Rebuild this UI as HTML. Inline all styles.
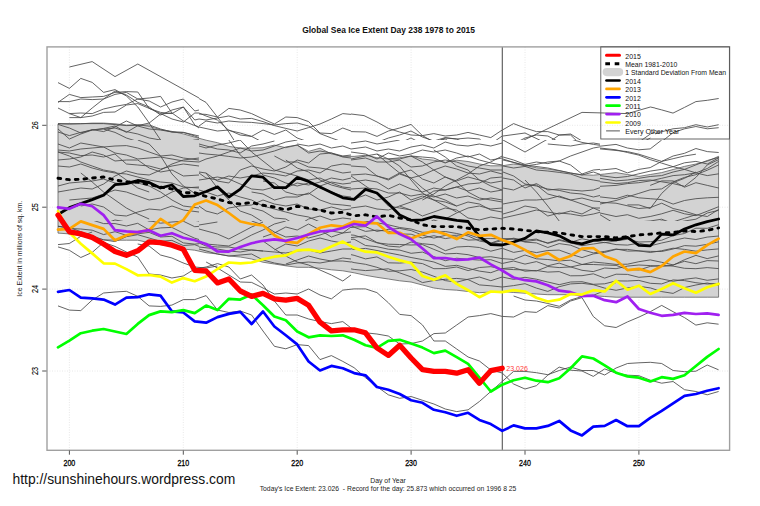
<!DOCTYPE html><html><head><meta charset="utf-8"><style>html,body{margin:0;padding:0;background:#fff;overflow:hidden;width:760px;height:506px;}svg{display:block;}</style></head><body>
<svg width="760" height="506" viewBox="0 0 760 506" style="font-family:'Liberation Sans', sans-serif">
<rect width="760" height="506" fill="#fff"/>
<line x1="69.4" y1="47" x2="69.4" y2="450" stroke="#e2e2e2" stroke-width="0.8" stroke-dasharray="1,1.5"/>
<line x1="183.3" y1="47" x2="183.3" y2="450" stroke="#e2e2e2" stroke-width="0.8" stroke-dasharray="1,1.5"/>
<line x1="297.2" y1="47" x2="297.2" y2="450" stroke="#e2e2e2" stroke-width="0.8" stroke-dasharray="1,1.5"/>
<line x1="411.1" y1="47" x2="411.1" y2="450" stroke="#e2e2e2" stroke-width="0.8" stroke-dasharray="1,1.5"/>
<line x1="525.0" y1="47" x2="525.0" y2="450" stroke="#e2e2e2" stroke-width="0.8" stroke-dasharray="1,1.5"/>
<line x1="638.9" y1="47" x2="638.9" y2="450" stroke="#e2e2e2" stroke-width="0.8" stroke-dasharray="1,1.5"/>
<line x1="47" y1="371.0" x2="729" y2="371.0" stroke="#e2e2e2" stroke-width="0.8" stroke-dasharray="1,1.5"/>
<line x1="47" y1="289.1" x2="729" y2="289.1" stroke="#e2e2e2" stroke-width="0.8" stroke-dasharray="1,1.5"/>
<line x1="47" y1="207.2" x2="729" y2="207.2" stroke="#e2e2e2" stroke-width="0.8" stroke-dasharray="1,1.5"/>
<line x1="47" y1="125.3" x2="729" y2="125.3" stroke="#e2e2e2" stroke-width="0.8" stroke-dasharray="1,1.5"/>
<polygon points="58.0,123.8 69.4,124.3 80.8,123.8 92.2,123.1 103.6,123.1 115.0,123.8 126.4,125.1 137.7,124.6 149.1,126.4 160.5,129.6 171.9,131.4 183.3,133.9 194.7,137.1 206.1,140.2 217.5,142.7 228.9,146.4 240.3,148.0 251.6,148.2 263.0,147.7 274.4,145.1 285.8,147.7 297.2,145.1 308.6,151.4 320.0,148.2 331.4,153.9 342.8,156.4 354.1,156.4 365.5,155.2 376.9,157.7 388.3,159.0 399.7,157.7 411.1,156.0 422.5,159.0 433.9,160.2 445.3,162.2 456.7,160.2 468.1,161.5 479.4,164.0 490.8,165.8 502.2,165.8 513.6,164.0 525.0,165.3 536.4,167.8 547.8,169.0 559.2,170.8 570.6,173.0 582.0,174.8 593.3,175.2 604.7,174.0 616.1,172.6 627.5,174.5 638.9,176.4 650.3,174.5 661.7,172.6 673.1,169.5 684.5,166.4 695.9,164.0 707.2,161.3 718.6,156.3 718.6,297.2 707.2,297.2 695.9,297.2 684.5,297.2 673.1,297.2 661.7,297.2 650.3,297.2 638.9,297.2 627.5,297.2 616.1,297.2 604.7,296.5 593.3,295.7 582.0,295.2 570.6,294.7 559.2,294.7 547.8,294.7 536.4,294.0 525.0,293.2 513.6,292.5 502.2,291.5 490.8,292.0 479.4,292.7 468.1,291.5 456.7,290.2 445.3,289.5 433.9,288.0 422.5,285.0 411.1,282.0 399.7,280.8 388.3,279.0 376.9,277.3 365.5,275.3 354.1,272.8 342.8,270.8 331.4,269.8 320.0,268.3 308.6,267.3 297.2,267.3 285.8,265.8 274.4,264.0 263.0,262.2 251.6,259.0 240.3,257.0 228.9,256.0 217.5,254.0 206.1,252.7 194.7,250.2 183.3,249.0 171.9,246.4 160.5,244.7 149.1,242.7 137.7,240.2 126.4,240.2 115.0,240.2 103.6,239.7 92.2,237.1 80.8,235.1 69.4,233.9 58.0,233.1" fill="#d3d3d3" stroke="#606060" stroke-width="0.8"/>
<clipPath id="c0"><rect x="47.0" y="47.0" width="152.0" height="93.0"/></clipPath>
<g clip-path="url(#c0)" fill="none" stroke="#484848" stroke-width="0.85" stroke-linejoin="round">
<polyline points="69.4,67.0 92.2,61.6 115.0,76.6 137.8,64.0 199.0,98.0"/>
<polyline points="58.0,82.6 69.4,88.4 80.8,78.4 92.2,82.4 103.6,92.4 115.0,89.6 126.4,96.0 137.8,107.0 149.2,123.0 160.6,140.0 166.6,151.0"/>
<polyline points="58.0,102.4 69.4,94.4 80.8,97.6 92.2,97.0 103.6,96.4 115.0,92.4 126.4,91.6 137.8,92.0 149.2,108.4 160.6,113.6 172.0,119.0 183.4,122.0 194.8,113.0 199.0,113.0"/>
<polyline points="58.0,101.6 69.4,101.6 80.8,99.0 92.2,99.6 103.6,99.0 115.0,94.4 126.4,92.4 137.8,99.0 149.2,98.0 160.6,96.4 172.0,113.0 183.4,121.0 194.8,125.6 199.0,127.0"/>
<polyline points="58.0,108.0 69.4,113.6 80.8,117.6 92.2,108.0 103.6,99.0 115.0,91.0 126.4,95.0 137.8,102.4 149.2,107.0 160.6,115.0 172.0,110.0 183.4,107.0 194.8,125.0 199.0,128.0"/>
<polyline points="69.4,117.6 80.8,117.6 92.2,116.0 103.6,112.4 115.0,112.0 126.4,105.0 137.8,103.6 149.2,108.4 160.6,112.4 172.0,113.6 183.4,107.0 194.8,120.0 199.0,119.0"/>
<polyline points="69.4,113.6 80.8,113.0 92.2,113.6 103.6,109.0 115.0,106.4 126.4,104.4 137.8,99.0 149.2,101.0 160.6,107.0 172.0,102.0 183.4,99.0 194.8,111.0 199.0,110.0"/>
<polyline points="58.0,123.6 80.8,123.6 103.6,123.6 126.4,125.6 149.2,125.0 160.6,129.0 172.0,132.0 183.4,132.4 194.8,136.0 199.0,137.6"/>
<polyline points="58.0,124.4 69.4,128.0 80.8,133.0 92.2,129.6 103.6,131.6 115.0,127.0 126.4,121.0 137.8,126.0 149.2,129.0 160.6,130.0 172.0,132.0 183.4,132.4 199.0,136.0"/>
<polyline points="58.0,132.0 69.4,135.6 80.8,132.4 92.2,130.0 103.6,128.4 115.0,126.0 126.4,132.4 137.8,125.6 149.2,123.0 160.6,114.0 172.0,113.0"/>
<polyline points="58.0,129.0 69.4,139.0 80.8,134.0 92.2,130.0 103.6,129.0 115.0,128.0 126.4,131.6 137.8,134.0 149.2,138.0 160.6,140.0"/>
<polyline points="103.6,129.0 115.0,132.4 126.4,138.0 137.8,141.6 149.2,144.0 160.6,145.6 172.0,146.0 183.4,142.4 194.8,140.0 199.0,139.6"/>
</g>
<clipPath id="c1"><rect x="199.0" y="47.0" width="152.0" height="93.0"/></clipPath>
<g clip-path="url(#c1)" fill="none" stroke="#484848" stroke-width="0.85" stroke-linejoin="round">
<polyline points="198.0,98.0 206.0,102.4 217.4,117.0 228.8,132.0 240.2,150.0"/>
<polyline points="199.0,114.0 206.0,114.4 217.4,117.0 228.8,108.4 240.2,110.0 251.6,113.6 263.0,119.0 274.4,124.0 285.8,117.0 297.2,117.6 308.6,121.6 320.0,133.0 331.4,133.6 342.8,128.0 351.0,131.0"/>
<polyline points="199.0,119.0 206.0,120.0 217.4,118.0 228.8,116.0 240.2,119.0 251.6,118.4 263.0,121.6 274.4,125.6 285.8,128.4 297.2,131.0 308.6,127.6 320.0,124.0 331.4,119.0 342.8,113.6 351.0,114.4"/>
<polyline points="199.0,126.0 206.0,121.0 217.4,123.0 228.8,121.0 240.2,122.0 251.6,122.4 263.0,123.6 274.4,125.0 285.8,123.6 297.2,123.0 308.6,126.0 320.0,133.6 331.4,138.0 342.8,142.0"/>
<polyline points="199.0,127.0 217.4,131.0 228.8,130.0 240.2,135.0 251.6,136.4 263.0,130.0 274.4,134.4 285.8,130.0 297.2,138.0 308.6,142.0 320.0,144.0 331.4,148.0 339.0,151.0"/>
<polyline points="199.0,113.0 206.0,116.0 217.4,120.0 228.8,130.4 240.2,133.0 251.6,136.4 263.0,142.4 274.4,146.0 285.8,150.0"/>
</g>
<clipPath id="c2"><rect x="351.0" y="47.0" width="152.0" height="93.0"/></clipPath>
<g clip-path="url(#c2)" fill="none" stroke="#484848" stroke-width="0.85" stroke-linejoin="round">
<polyline points="351.0,114.0 364.0,115.6 377.0,122.0 388.4,128.4 399.6,132.0 411.0,135.0 422.4,135.6 433.8,133.6 445.2,136.0 456.6,135.0 468.0,132.4 479.4,135.0 490.8,137.6 502.2,130.0"/>
<polyline points="351.0,131.6 365.6,132.0 377.0,136.4 388.4,131.0 399.6,128.0 411.0,124.4 422.4,135.6 433.8,142.0 445.2,150.0"/>
<polyline points="351.0,141.0 365.6,145.0 377.0,142.4 388.4,138.0 399.6,135.0 411.0,131.0 422.4,137.0 433.8,141.0 445.2,137.6 456.6,139.0 468.0,138.0 479.4,139.0 490.8,149.0 495.0,151.0"/>
<polyline points="433.8,142.0 445.2,139.0 456.6,146.0 468.0,144.0 479.4,147.6 490.8,144.0 502.2,136.0"/>
<polyline points="351.0,143.0 365.6,145.6 377.0,150.0"/>
<polyline points="377.0,150.0 388.4,145.6 399.6,143.0 411.0,138.0 422.4,144.0 433.8,148.0"/>
<polyline points="422.4,150.0 433.8,143.0 445.2,138.0 456.6,139.0 468.0,144.0"/>
</g>
<clipPath id="c3"><rect x="503.0" y="47.0" width="152.0" height="93.0"/></clipPath>
<g clip-path="url(#c3)" fill="none" stroke="#484848" stroke-width="0.85" stroke-linejoin="round">
<polyline points="502.4,130.0 513.6,123.6 525.0,128.0 536.4,131.6 547.8,131.6 559.2,135.0 570.6,134.0 582.0,141.0 593.4,142.4 604.8,144.0 616.2,146.0 627.6,148.0 639.0,144.0 650.4,138.0"/>
<polyline points="503.0,136.0 525.0,133.0 547.8,144.0 570.6,147.0 582.0,150.0"/>
<polyline points="503.0,148.0 513.6,144.0 525.0,138.0 536.4,135.0 547.8,136.0 559.2,142.0 570.6,150.0"/>
<polyline points="547.8,143.6 559.2,144.0 570.6,146.0 582.0,147.6 593.4,148.0 604.8,150.0 616.2,149.0 627.6,149.0 639.0,151.0"/>
<polyline points="503.0,150.0 582.0,112.4 604.8,113.0 627.6,113.6 650.4,107.0 655.0,108.0"/>
<polyline points="529.0,151.0 547.8,143.0 559.2,135.0 570.6,135.0 582.0,146.0 593.4,142.4 604.8,143.0 616.2,144.0 627.6,147.6 639.0,142.0 650.4,134.0 655.0,132.0"/>
</g>
<clipPath id="c4"><rect x="655.0" y="47.0" width="80.0" height="93.0"/></clipPath>
<g clip-path="url(#c4)" fill="none" stroke="#484848" stroke-width="0.85" stroke-linejoin="round">
<polyline points="600.0,112.8 616.0,112.8 627.4,111.0 638.8,108.7 650.2,106.9 661.7,109.9 673.0,113.1 684.5,107.4 695.9,101.6 707.3,100.3 718.7,98.5"/>
<polyline points="616.0,150.5 627.4,151.4 638.8,143.4 650.2,135.4 661.7,131.8 673.0,128.8 684.5,127.7 695.9,124.7 707.3,127.0 718.7,124.7"/>
<polyline points="638.8,151.4 650.2,150.1 661.7,141.6 673.0,132.7 684.5,128.8 695.9,126.5 707.3,128.8 718.7,127.7"/>
<polyline points="600.0,146.9 616.0,146.0 627.4,148.7 638.8,151.9 650.2,156.7 661.7,163.0 673.0,166.5 684.5,168.3 695.9,170.1 707.3,171.9 718.7,173.6"/>
<polyline points="600.0,149.6 627.4,149.6 638.8,151.4 650.2,154.1 661.7,157.6 673.0,161.2 684.5,164.7"/>
<polyline points="650.2,164.7 661.7,160.3 673.0,155.8 684.5,152.3 695.9,148.4 707.3,151.4 718.7,152.3"/>
<polyline points="600.0,171.0 616.0,168.3 627.4,172.2 638.8,169.7 650.2,166.5 661.7,164.7 673.0,168.3 684.5,164.7 695.9,161.2 707.3,157.6 718.7,156.7"/>
</g>
<clipPath id="c5"><rect x="47.0" y="140.0" width="152.0" height="81.0"/></clipPath>
<g clip-path="url(#c5)" fill="none" stroke="#484848" stroke-width="0.85" stroke-linejoin="round">
<polyline points="58.0,144.0 69.4,148.0 80.8,143.0 92.2,145.0 103.6,147.0 115.0,146.0 126.4,145.6 137.8,148.0 149.2,152.0 160.6,156.0 172.0,155.0 183.4,158.0 199.0,160.0"/>
<polyline points="58.0,150.0 69.4,151.0 80.8,149.0 92.2,148.0 103.6,147.0 115.0,153.0 126.4,155.0 137.8,159.0 149.2,158.0 160.6,157.0 172.0,159.0 183.4,161.0 199.0,162.0"/>
<polyline points="58.0,152.0 69.4,153.0 80.8,155.6 92.2,155.0 103.6,157.0 115.0,154.0 126.4,164.0 137.8,165.0 149.2,166.0 160.6,169.0 172.0,166.0 183.4,164.0 199.0,166.0"/>
<polyline points="58.0,160.0 69.4,159.0 80.8,157.0 92.2,152.0 103.6,155.0 115.0,161.0 126.4,160.0 137.8,160.0 149.2,168.0 160.6,172.0 172.0,170.0 183.4,176.0 199.0,175.0"/>
<polyline points="58.0,166.0 69.4,167.0 80.8,164.0 92.2,168.0 103.6,171.0 115.0,173.0 126.4,174.0 137.8,177.0 149.2,180.0 160.6,182.0 172.0,183.0 183.4,187.0 199.0,188.0"/>
<polyline points="58.0,186.0 69.4,183.0 80.8,182.0 92.2,181.0 103.6,179.0 115.0,183.0 126.4,184.0 137.8,183.0 149.2,186.0 160.6,192.0 172.0,200.0 183.4,206.0 199.0,208.0"/>
<polyline points="58.0,192.0 69.4,190.0 80.8,188.0 92.2,189.0 103.6,184.0 115.0,176.0 126.4,171.0 137.8,174.0 149.2,175.0 160.6,170.0 172.0,164.0 183.4,160.0 199.0,158.0"/>
<polyline points="69.4,200.0 80.8,199.0 92.2,198.0 103.6,194.0 115.0,190.0 126.4,192.0 137.8,196.0 149.2,200.0 160.6,198.0 172.0,192.0 183.4,188.0 199.0,187.0"/>
<polyline points="80.8,173.0 92.2,182.0 103.6,192.0 115.0,200.0 126.4,208.0 137.8,214.0 149.2,219.0"/>
<polyline points="58.0,152.0 69.4,156.0 80.8,162.0 92.2,166.0 103.6,170.0 115.0,172.0 126.4,180.0 137.8,188.0 149.2,192.0"/>
<polyline points="137.8,140.0 149.2,144.0 160.6,156.0 172.0,174.0 183.4,186.0 199.0,196.0"/>
<polyline points="58.0,221.0 69.4,224.0 80.8,226.0 92.2,227.0 103.6,224.0 115.0,220.0 126.4,222.0"/>
<polyline points="80.8,206.0 92.2,204.0 103.6,207.0 115.0,215.0 126.4,216.0 137.8,212.0 149.2,209.0 160.6,210.0 172.0,206.0 183.4,210.0 199.0,212.0"/>
</g>
<clipPath id="c6"><rect x="199.0" y="140.0" width="152.0" height="81.0"/></clipPath>
<g clip-path="url(#c6)" fill="none" stroke="#484848" stroke-width="0.85" stroke-linejoin="round">
<polyline points="199.0,153.0 206.0,154.0 217.4,155.0 228.8,156.4 240.2,158.0 251.6,157.0 263.0,154.0 274.4,151.0 285.8,147.0 297.2,145.0 308.6,153.0 320.0,151.0 331.4,153.0 342.8,157.0 351.0,158.0"/>
<polyline points="199.0,162.0 206.0,159.0 217.4,156.0 228.8,152.0 240.2,148.0 251.6,151.0 263.0,150.0 274.4,146.0 285.8,142.0 297.2,140.0"/>
<polyline points="199.0,146.0 206.0,148.0 217.4,145.0 228.8,143.0 240.2,140.0"/>
<polyline points="228.8,140.0 240.2,155.0 251.6,164.0 263.0,175.0 274.4,178.0 285.8,183.0 297.2,186.0 308.6,183.0 320.0,188.0 331.4,192.0 342.8,196.0 351.0,197.0"/>
<polyline points="240.2,140.0 251.6,152.0 263.0,161.0 274.4,170.0 285.8,173.0 297.2,176.0 308.6,180.0 320.0,178.0 331.4,183.0 342.8,187.0 351.0,188.0"/>
<polyline points="199.0,172.0 206.0,173.0 217.4,181.0 228.8,183.0 240.2,170.0 251.6,166.0 263.0,169.0 274.4,171.0 285.8,167.0 297.2,160.0 308.6,163.0 320.0,154.0 331.4,153.0 342.8,156.0 351.0,155.0"/>
<polyline points="199.0,173.0 206.0,178.0 217.4,180.0 228.8,176.0 240.2,178.0 251.6,176.0 263.0,173.0 274.4,174.0 285.8,176.0 297.2,171.0 308.6,170.0 320.0,173.0 331.4,166.0 342.8,164.0 351.0,165.0"/>
<polyline points="199.0,180.0 206.0,179.0 217.4,177.0 228.8,179.0 240.2,184.0 251.6,189.0 263.0,190.0 274.4,187.0 285.8,188.0 297.2,183.0 308.6,185.0 320.0,182.0 331.4,178.0 342.8,180.0 351.0,178.0"/>
<polyline points="199.0,206.0 206.0,211.0 217.4,214.0 228.8,208.0 240.2,206.0 251.6,205.0 263.0,200.0 274.4,204.0 285.8,206.0 297.2,204.0 308.6,209.0 320.0,210.0 331.4,207.0 342.8,210.0 351.0,209.0"/>
<polyline points="206.0,173.0 217.4,188.0 228.8,200.0 240.2,211.0 251.6,215.0 263.0,222.0 274.4,225.0 285.8,228.0 297.2,229.0 308.6,234.0 320.0,236.0 331.4,235.0 342.8,238.0"/>
<polyline points="251.6,192.0 263.0,194.0 274.4,200.0 285.8,197.0 297.2,197.0 308.6,193.0 320.0,200.0 331.4,204.0 342.8,205.0 351.0,206.0"/>
<polyline points="251.6,208.0 263.0,211.0 274.4,218.0 285.8,219.0 297.2,226.0 308.6,219.0 320.0,216.0 331.4,220.0 342.8,218.0 351.0,219.0"/>
<polyline points="199.0,226.0 217.4,234.0 228.8,238.0 240.2,240.0"/>
<polyline points="263.0,181.0 274.4,183.0 285.8,192.0 297.2,195.0 308.6,194.0 320.0,186.0 331.4,182.0 342.8,184.0 351.0,183.0"/>
<polyline points="285.8,160.0 297.2,168.0 308.6,172.0 320.0,180.0 331.4,185.0 342.8,188.0 351.0,190.0"/>
<polyline points="274.4,156.0 285.8,162.0 297.2,162.0 308.6,167.0 320.0,168.0 331.4,170.0 342.8,173.0 351.0,172.0"/>
<polyline points="199.0,190.0 206.0,192.0 217.4,196.0 228.8,193.0 240.2,197.0 251.6,200.0 263.0,206.0 274.4,209.0 285.8,212.0 297.2,215.0 308.6,217.0 320.0,222.0 331.4,224.0 342.8,226.0 351.0,225.0"/>
<polyline points="297.2,144.0 308.6,146.0 320.0,144.0 331.4,148.0 342.8,146.0 351.0,149.0"/>
<polyline points="199.0,144.0 217.4,149.0 228.8,150.0 240.2,153.0 251.6,146.0 263.0,144.0 274.4,141.0"/>
</g>
<clipPath id="c7"><rect x="351.0" y="140.0" width="152.0" height="81.0"/></clipPath>
<g clip-path="url(#c7)" fill="none" stroke="#484848" stroke-width="0.85" stroke-linejoin="round">
<polyline points="351.0,149.0 365.6,147.0 377.0,151.0 388.4,149.0 399.6,151.0 411.0,147.0 422.4,145.0 433.8,148.0 445.2,142.0 456.6,145.0 468.0,146.0 479.4,144.0 490.8,146.0 502.2,143.0"/>
<polyline points="351.0,152.0 365.6,154.0 377.0,159.0 388.4,153.0 399.6,156.0 411.0,154.0 422.4,150.0 433.8,152.0 445.2,150.0 456.6,153.0 468.0,157.0 479.4,154.0 490.8,160.0 502.2,158.0"/>
<polyline points="351.0,159.0 365.6,156.0 377.0,154.0 388.4,159.0 399.6,159.0 411.0,156.0 422.4,157.0 433.8,158.0 445.2,163.0 456.6,158.0 468.0,156.0 479.4,160.0 490.8,163.0 502.2,165.0"/>
<polyline points="351.0,160.0 365.6,158.0 377.0,162.0 388.4,162.0 399.6,160.0 411.0,167.0 422.4,166.0 433.8,162.0 445.2,160.0 456.6,162.0 468.0,166.0 479.4,168.0 490.8,170.0 502.2,170.0"/>
<polyline points="351.0,166.0 365.6,167.0 377.0,176.0 388.4,180.0 399.6,174.0 411.0,178.0 422.4,175.0 433.8,170.0 445.2,166.0 456.6,169.0 468.0,173.0 479.4,174.0 490.8,171.0 502.2,174.0"/>
<polyline points="351.0,175.0 365.6,174.0 377.0,176.0 388.4,179.0 399.6,173.0 411.0,170.0 422.4,179.0 433.8,183.0 445.2,177.0 456.6,181.0 468.0,177.0 479.4,180.0 490.8,183.0 502.2,181.0"/>
<polyline points="351.0,182.0 365.6,180.0 377.0,182.0 388.4,189.0 399.6,184.0 411.0,189.0 422.4,192.0 433.8,188.0 445.2,190.0 456.6,187.0 468.0,191.0 479.4,188.0 490.8,192.0 502.2,190.0"/>
<polyline points="351.0,189.0 365.6,188.0 377.0,189.0 388.4,193.0 399.6,193.0 411.0,196.0 422.4,194.0 433.8,197.0 445.2,194.0 456.6,198.0 468.0,196.0 479.4,200.0 490.8,198.0 502.2,200.0"/>
<polyline points="351.0,200.0 365.6,195.0 377.0,200.0 388.4,197.0 399.6,192.0 411.0,200.0 422.4,196.0 433.8,200.0 445.2,202.0 456.6,206.0 468.0,202.0 479.4,204.0 490.8,210.0 502.2,212.0"/>
<polyline points="351.0,208.0 365.6,206.0 377.0,209.0 388.4,210.0 399.6,206.0 411.0,210.0 422.4,216.0 433.8,212.0 445.2,208.0 456.6,210.0 468.0,218.0 479.4,220.0 490.8,217.0 502.2,219.0"/>
<polyline points="351.0,231.0 365.6,230.0 377.0,228.0 388.4,226.0 399.6,225.0 411.0,226.0 422.4,226.0 433.8,220.0 445.2,224.0 456.6,225.0 468.0,224.0 479.4,228.0 490.8,228.0 502.2,226.0"/>
<polyline points="388.4,159.0 399.6,166.0 411.0,180.0 422.4,193.0 433.8,200.0 445.2,206.0 456.6,212.0"/>
<polyline points="351.0,176.0 365.6,186.0 377.0,194.0 388.4,206.0 399.6,208.0 411.0,210.0"/>
<polyline points="433.8,216.0 445.2,219.0 456.6,213.0 468.0,208.0 479.4,206.0 490.8,209.0 502.2,208.0"/>
<polyline points="351.0,143.0 365.6,141.0 377.0,144.0 388.4,142.0 399.6,140.0"/>
<polyline points="377.0,154.0 388.4,164.0 399.6,173.0 411.0,178.0 422.4,188.0 433.8,196.0 445.2,200.0 456.6,206.0"/>
<polyline points="411.0,156.0 422.4,162.0 433.8,170.0 445.2,177.0 456.6,182.0 468.0,192.0 479.4,198.0 490.8,200.0 502.2,202.0"/>
<polyline points="433.8,150.0 445.2,157.0 456.6,166.0 468.0,170.0 479.4,180.0 490.8,186.0 502.2,190.0"/>
<polyline points="422.4,200.0 433.8,194.0 445.2,186.0 456.6,180.0 468.0,174.0 479.4,166.0 490.8,162.0 502.2,156.0"/>
<polyline points="399.6,206.0 411.0,202.0 422.4,198.0 433.8,191.0 445.2,190.0 456.6,187.0 468.0,184.0 479.4,183.0 490.8,178.0 502.2,177.0"/>
</g>
<clipPath id="c8"><rect x="503.0" y="140.0" width="97.0" height="81.0"/></clipPath>
<g clip-path="url(#c8)" fill="none" stroke="#484848" stroke-width="0.85" stroke-linejoin="round">
<polyline points="503.0,127.0 513.6,123.6 525.0,126.0 536.4,131.0 547.8,133.0 559.2,136.0 570.6,139.0 582.0,142.4 593.4,144.4 604.8,146.0 616.2,148.0 627.6,150.0 639.0,153.0 650.4,157.0 655.0,160.0"/>
<polyline points="503.0,140.0 525.0,152.0 547.8,139.0 565.0,120.0"/>
<polyline points="503.0,157.0 513.6,160.0 525.0,164.4 536.4,162.0 547.8,163.6 559.2,161.0 570.6,156.0 582.0,152.0 593.4,148.0 604.8,146.0 616.2,143.0 627.6,140.0 639.0,137.0 650.4,132.0 655.0,129.0"/>
<polyline points="503.0,159.0 525.0,166.0 536.4,164.4 547.8,162.0 559.2,161.0 570.6,165.0 582.0,174.0 593.4,170.0 604.8,169.0 616.2,168.0 627.6,172.0 639.0,170.0 650.4,168.0 655.0,169.0"/>
<polyline points="547.8,144.0 559.2,145.0 570.6,146.0 582.0,144.0 593.4,143.0 604.8,145.0 616.2,149.0 627.6,151.0 639.0,150.0 650.4,147.0 655.0,146.0"/>
<polyline points="503.0,160.0 525.0,165.0 547.8,168.0 570.6,173.0 582.0,175.0 593.4,172.0 604.8,176.0 616.2,177.0 627.6,178.0 639.0,176.0 655.0,175.0"/>
<polyline points="503.0,166.0 513.6,168.0 525.0,166.4 536.4,170.0 547.8,171.0 559.2,172.4 570.6,174.0 582.0,178.0 593.4,180.0 604.8,182.0 616.2,182.0 627.6,180.0 639.0,178.0 655.0,176.0"/>
<polyline points="503.0,172.0 513.6,176.0 525.0,184.0 536.4,186.0 547.8,189.0 559.2,190.4 570.6,193.0 582.0,194.0 593.4,197.0 604.8,194.4 616.2,190.0 627.6,188.0 639.0,186.0 650.4,184.0 655.0,186.0"/>
<polyline points="503.0,178.0 513.6,180.0 525.0,188.0 536.4,183.6 547.8,190.0 559.2,189.0 570.6,190.0 582.0,191.0 593.4,190.0 604.8,186.0 616.2,183.0 627.6,181.0 639.0,180.0 650.4,178.0 655.0,178.0"/>
<polyline points="503.0,188.0 513.6,190.0 525.0,185.0 536.4,185.0 547.8,194.0 559.2,197.0 570.6,200.0 582.0,198.0 593.4,201.0 604.8,202.0 616.2,199.6 627.6,198.4 639.0,197.0 650.4,195.0 655.0,195.0"/>
<polyline points="503.0,204.0 513.6,202.0 525.0,200.0 536.4,200.0 547.8,199.0 559.2,196.0 570.6,200.0 582.0,204.0 593.4,208.0 604.8,213.0 616.2,206.0 627.6,204.0 639.0,200.0 650.4,190.0 655.0,191.0"/>
<polyline points="503.0,214.0 513.6,211.0 525.0,206.0 536.4,208.0 547.8,216.0 559.2,213.0 570.6,214.0 582.0,216.0 593.4,214.0 604.8,211.0 616.2,210.0 627.6,204.0 639.0,208.0 650.4,206.0 655.0,206.0"/>
<polyline points="503.0,218.0 525.0,213.0 536.4,210.0 547.8,212.0 559.2,214.0 570.6,211.0 582.0,214.0 593.4,208.0 604.8,208.0 616.2,212.0 627.6,216.0 639.0,211.0 655.0,210.0"/>
<polyline points="525.0,180.0 536.4,192.0 547.8,206.0 559.2,221.0"/>
<polyline points="503.0,135.0 513.6,134.0 525.0,133.0 536.4,131.0 547.8,131.0 559.2,136.0 570.6,135.0 582.0,135.0 593.4,138.0 604.8,140.0 616.2,139.0 627.6,142.0 639.0,144.0 655.0,148.0"/>
</g>
<clipPath id="c9"><rect x="600.0" y="140.0" width="135.0" height="81.0"/></clipPath>
<g clip-path="url(#c9)" fill="none" stroke="#484848" stroke-width="0.85" stroke-linejoin="round">
<polyline points="600.0,148.0 616.0,149.8 627.4,152.5 638.8,155.1 650.2,159.6 661.7,163.1 673.1,166.7 684.5,169.4 695.9,172.9 707.3,175.6 718.7,173.8"/>
<polyline points="600.0,148.9 627.4,151.6 638.8,154.2 650.2,157.8 661.7,161.4 673.1,156.0 684.5,153.3 695.9,148.5 707.3,151.6 718.7,152.5"/>
<polyline points="600.0,170.2 616.0,168.5 627.4,172.9 638.8,169.4 650.2,167.6 661.7,161.4 673.1,158.7 684.5,156.0 695.9,154.2"/>
<polyline points="600.0,175.6 616.0,177.7 627.4,176.5 638.8,173.8 650.2,171.1 661.7,169.4 673.1,166.7 684.5,162.8 695.9,161.4 707.3,164.0 718.7,157.8"/>
<polyline points="600.0,178.3 616.0,180.9 627.4,180.0 638.8,178.3 650.2,176.5 661.7,175.6 673.1,172.0 684.5,169.4 695.9,164.9 707.3,160.5 718.7,157.4"/>
<polyline points="600.0,181.8 616.0,183.6 627.4,182.7 638.8,180.6 650.2,180.0 661.7,181.8 673.1,183.6 684.5,186.3 695.9,177.4 707.3,164.9 718.7,159.6"/>
<polyline points="600.0,186.3 616.0,185.4 627.4,183.6 638.8,182.7 650.2,180.9 661.7,178.3 673.1,175.6 684.5,174.7 695.9,172.9 707.3,168.5 718.7,161.4"/>
<polyline points="600.0,196.9 616.0,198.7 627.4,195.2 638.8,197.8 650.2,198.7 661.7,199.6 673.1,204.1 684.5,200.5 695.9,198.7 707.3,197.8 718.7,197.3"/>
<polyline points="600.0,204.1 616.0,200.5 627.4,196.9 638.8,193.4 650.2,189.8 661.7,188.9 673.1,181.8 684.5,177.4 695.9,174.7 707.3,170.2 718.7,164.9"/>
<polyline points="600.0,202.3 616.0,203.2 627.4,205.8 638.8,208.5 650.2,207.6 661.7,203.2 673.1,208.5 684.5,211.2 695.9,214.7 707.3,216.5 718.7,209.4"/>
<polyline points="627.4,204.9 638.8,204.9 650.2,208.5 661.7,193.4 673.1,182.7 684.5,178.3 695.9,172.0"/>
<polyline points="600.0,213.0 616.0,216.5 627.4,214.7 638.8,218.3 650.2,216.5 661.7,213.8 673.1,210.3 684.5,213.8 695.9,215.6 707.3,211.2 718.7,206.7"/>
<polyline points="600.0,214.7 616.0,224.5 627.4,223.6 638.8,221.9 650.2,221.0 661.7,219.2 673.1,223.6 684.5,221.0 695.9,219.2 707.3,213.0 718.7,210.3"/>
<polyline points="600.0,225.4 616.0,227.2 627.4,226.3 638.8,228.1 650.2,223.6 661.7,221.0 673.1,221.9 684.5,218.3 695.9,214.7"/>
<polyline points="650.2,185.4 661.7,180.9 673.1,180.9 684.5,187.2 695.9,182.7 707.3,185.4 718.7,188.0"/>
<polyline points="600.0,146.2 616.0,144.4 627.4,148.0 638.8,149.8 650.2,148.9 661.7,140.0"/>
</g>
<clipPath id="c10"><rect x="199.0" y="221.0" width="152.0" height="79.0"/></clipPath>
<g clip-path="url(#c10)" fill="none" stroke="#484848" stroke-width="0.85" stroke-linejoin="round">
<polyline points="199.0,229.0 217.4,234.0 228.8,239.0 240.2,233.0 251.6,227.0 263.0,222.0"/>
<polyline points="199.0,241.0 206.0,244.0 217.4,245.0 228.8,246.0 240.2,241.0 251.6,235.0 263.0,230.0 274.4,224.0 285.8,221.0"/>
<polyline points="199.0,247.0 217.4,249.0 228.8,251.0 240.2,252.0 251.6,250.0 263.0,251.0 274.4,252.0 285.8,253.0 297.2,251.0 308.6,250.0 320.0,253.0 331.4,251.0 342.8,249.0 351.0,249.0"/>
<polyline points="199.0,249.0 217.4,254.0 228.8,256.0 240.2,255.0 251.6,254.0 263.0,260.0 274.4,263.0 285.8,265.0 297.2,263.0 308.6,262.0 320.0,263.0 331.4,261.0 342.8,261.0 351.0,262.0"/>
<polyline points="251.6,221.0 263.0,225.0 274.4,232.0 285.8,237.0 297.2,236.0 308.6,238.0 320.0,235.0 331.4,231.0 342.8,233.0 351.0,232.0"/>
<polyline points="263.0,237.0 274.4,233.0 285.8,227.0 297.2,230.0 308.6,224.0 320.0,230.0 331.4,237.0 342.8,233.0 351.0,227.0"/>
<polyline points="274.4,250.0 285.8,244.0 297.2,246.0 308.6,241.0 320.0,238.0 331.4,241.0 342.8,243.0 351.0,242.0"/>
<polyline points="285.8,264.0 297.2,260.0 308.6,256.0 320.0,259.0 331.4,261.0 342.8,258.0 351.0,259.0"/>
<polyline points="263.0,241.0 274.4,249.0 285.8,256.0 297.2,262.0 308.6,265.0 320.0,270.0 331.4,275.0 342.8,281.0 351.0,275.0"/>
<polyline points="199.0,243.0 206.0,246.0 217.4,247.0 228.8,247.0 240.2,249.0 251.6,250.0 263.0,251.0"/>
<polyline points="199.0,225.0 217.4,222.0"/>
</g>
<clipPath id="s0"><rect x="47.0" y="221.0" width="152.0" height="79.0"/></clipPath>
<g clip-path="url(#s0)" fill="none" stroke="#484848" stroke-width="0.85" stroke-linejoin="round">
<polyline points="58.0,180.7 69.4,181.1 80.8,185.0 92.2,183.7 103.6,189.2 115.0,187.8 126.4,185.7 137.7,187.2 149.1,188.4 160.5,189.5 171.9,192.5 183.3,197.0 194.7,198.3 206.1,205.4 217.5,205.6 228.9,210.4 240.3,210.4 251.6,209.3 263.0,212.2 274.4,214.7 285.8,216.8 297.2,217.8 308.6,217.4 320.0,215.4 331.4,218.1 342.8,222.0 354.1,227.0 365.5,226.7 376.9,231.4 388.3,229.4 399.7,228.4 411.1,230.6 422.5,235.2 433.9,238.1 445.3,235.4 456.7,235.3 468.1,234.4 479.4,238.4 490.8,238.6 502.2,238.7 513.6,239.1 525.0,241.6 536.4,240.0 547.8,242.9 559.2,239.5 570.6,242.4 582.0,238.8 593.3,240.9 604.7,242.7 616.1,240.8 627.5,239.3 638.9,242.0 650.3,241.7 661.7,240.2 673.1,235.6 684.5,233.5 695.9,228.2 707.2,228.3 718.6,224.7"/>
<polyline points="58.0,188.5 69.4,189.3 80.8,187.4 92.2,189.0 103.6,194.1 115.0,195.8 126.4,195.2 137.7,196.3 149.1,196.9 160.5,201.3 171.9,202.1 183.3,200.8 194.7,203.7 206.1,206.1 217.5,208.1 228.9,208.4 240.3,211.8 251.6,210.4 263.0,211.3 274.4,210.3 285.8,212.1 297.2,210.9 308.6,217.0 320.0,217.1 331.4,216.3 342.8,219.6 354.1,217.9 365.5,221.2 376.9,222.8 388.3,224.8 399.7,227.5 411.1,229.0 422.5,232.3 433.9,232.1 445.3,231.5 456.7,233.5 468.1,236.0 479.4,241.0 490.8,243.1 502.2,239.1 513.6,238.8 525.0,242.1 536.4,242.9 547.8,247.5 559.2,243.6 570.6,245.2 582.0,249.7 593.3,252.9 604.7,251.4 616.1,249.0 627.5,251.1 638.9,250.9 650.3,252.5 661.7,250.7 673.1,248.2 684.5,249.4 695.9,251.2 707.2,249.9 718.6,248.9"/>
<polyline points="58.0,204.3 69.4,205.1 80.8,204.1 92.2,203.0 103.6,207.0 115.0,210.6 126.4,208.7 137.7,210.3 149.1,207.8 160.5,211.1 171.9,211.0 183.3,214.6 194.7,217.7 206.1,222.8 217.5,223.2 228.9,227.5 240.3,225.7 251.6,224.3 263.0,227.3 274.4,229.9 285.8,233.0 297.2,229.0 308.6,230.2 320.0,229.6 331.4,233.6 342.8,238.4 354.1,237.3 365.5,235.9 376.9,242.5 388.3,246.1 399.7,247.0 411.1,242.0 422.5,243.7 433.9,244.8 445.3,250.7 456.7,247.0 468.1,246.4 479.4,247.5 490.8,251.2 502.2,248.3 513.6,252.4 525.0,250.4 536.4,252.6 547.8,250.5 559.2,250.1 570.6,254.2 582.0,257.6 593.3,253.9 604.7,252.4 616.1,249.4 627.5,249.4 638.9,250.9 650.3,251.4 661.7,251.5 673.1,249.0 684.5,245.6 695.9,246.2 707.2,244.3 718.6,241.8"/>
<polyline points="58.0,208.4 69.4,212.8 80.8,213.6 92.2,212.3 103.6,216.8 115.0,217.2 126.4,218.9 137.7,217.9 149.1,220.5 160.5,223.2 171.9,222.0 183.3,221.2 194.7,226.7 206.1,225.8 217.5,228.5 228.9,234.4 240.3,232.7 251.6,232.2 263.0,234.2 274.4,233.5 285.8,238.4 297.2,237.2 308.6,236.1 320.0,238.4 331.4,239.6 342.8,239.6 354.1,239.2 365.5,245.5 376.9,246.7 388.3,249.2 399.7,250.1 411.1,253.3 422.5,252.1 433.9,256.6 445.3,260.7 456.7,258.2 468.1,259.3 479.4,260.1 490.8,259.7 502.2,263.5 513.6,261.0 525.0,264.1 536.4,261.6 547.8,265.8 559.2,263.1 570.6,267.0 582.0,264.5 593.3,264.5 604.7,265.0 616.1,265.4 627.5,269.5 638.9,270.0 650.3,266.4 661.7,265.4 673.1,266.1 684.5,268.3 695.9,268.7 707.2,267.6 718.6,268.6"/>
<polyline points="58.0,219.3 69.4,217.4 80.8,220.5 92.2,220.0 103.6,223.6 115.0,223.6 126.4,226.0 137.7,223.3 149.1,229.9 160.5,227.9 171.9,227.4 183.3,233.1 194.7,238.2 206.1,241.7 217.5,243.3 228.9,240.8 240.3,239.9 251.6,241.2 263.0,243.2 274.4,243.5 285.8,245.9 297.2,247.5 308.6,248.3 320.0,251.9 331.4,255.8 342.8,252.9 354.1,255.3 365.5,258.9 376.9,256.9 388.3,262.8 399.7,263.1 411.1,262.1 422.5,263.6 433.9,268.7 445.3,268.6 456.7,267.0 468.1,270.6 479.4,267.5 490.8,266.7 502.2,268.9 513.6,269.6 525.0,269.9 536.4,271.0 547.8,266.5 559.2,267.6 570.6,266.9 582.0,270.3 593.3,271.6 604.7,268.0 616.1,268.7 627.5,266.1 638.9,265.0 650.3,265.6 661.7,266.4 673.1,265.2 684.5,259.7 695.9,255.4 707.2,258.6 718.6,255.9"/>
<polyline points="58.0,226.1 69.4,228.5 80.8,229.0 92.2,230.2 103.6,234.6 115.0,231.7 126.4,235.3 137.7,233.8 149.1,232.4 160.5,237.0 171.9,236.3 183.3,242.9 194.7,244.1 206.1,243.1 217.5,248.0 228.9,247.3 240.3,251.3 251.6,247.9 263.0,250.2 274.4,253.5 285.8,253.8 297.2,254.4 308.6,253.1 320.0,256.1 331.4,260.9 342.8,259.6 354.1,262.6 365.5,264.3 376.9,267.3 388.3,271.3 399.7,270.8 411.1,269.5 422.5,272.1 433.9,276.3 445.3,280.6 456.7,282.2 468.1,279.2 479.4,277.0 490.8,280.7 502.2,277.0 513.6,279.4 525.0,277.3 536.4,279.2 547.8,282.0 559.2,284.7 570.6,282.0 582.0,281.7 593.3,284.3 604.7,283.8 616.1,280.9 627.5,281.0 638.9,280.4 650.3,283.3 661.7,283.9 673.1,279.9 684.5,280.6 695.9,282.7 707.2,284.0 718.6,283.4"/>
<polyline points="58.0,226.4 69.4,227.5 80.8,231.7 92.2,235.9 103.6,239.9 115.0,241.6 126.4,236.7 137.7,234.7 149.1,238.0 160.5,241.3 171.9,240.4 183.3,245.5 194.7,244.7 206.1,249.0 217.5,250.9 228.9,250.9 240.3,251.7 251.6,255.2 263.0,258.1 274.4,257.9 285.8,263.2 297.2,262.1 308.6,260.9 320.0,259.4 331.4,265.9 342.8,267.5 354.1,269.4 365.5,270.6 376.9,269.8 388.3,268.8 399.7,272.9 411.1,276.9 422.5,282.6 433.9,280.5 445.3,279.3 456.7,278.4 468.1,279.6 479.4,284.9 490.8,285.8 502.2,287.0 513.6,285.6 525.0,283.7 536.4,288.1 547.8,291.4 559.2,286.7 570.6,283.9 582.0,283.3 593.3,284.7 604.7,288.1 616.1,290.3 627.5,287.9 638.9,286.3 650.3,287.9 661.7,291.6 673.1,293.4 684.5,287.6 695.9,285.0 707.2,283.0 718.6,285.3"/>
<polyline points="58.0,200.4 69.4,202.6 80.8,205.6 92.2,203.7 103.6,203.7 115.0,207.2 126.4,206.9 137.7,209.1 149.1,213.9 160.5,212.1 171.9,214.1 183.3,215.7 194.7,218.2 206.1,225.6 217.5,224.7 228.9,227.4 240.3,227.5 251.6,228.4 263.0,230.3 274.4,230.6 285.8,237.8 297.2,240.4 308.6,240.7 320.0,243.3 331.4,248.3 342.8,246.5 354.1,249.5 365.5,248.4 376.9,250.5 388.3,252.8 399.7,255.0 411.1,257.5 422.5,259.6 433.9,262.0 445.3,266.4 456.7,265.3 468.1,268.3 479.4,271.1 490.8,272.7 502.2,268.6 513.6,267.5 525.0,271.2 536.4,270.5 547.8,272.1 559.2,271.6 570.6,275.8 582.0,275.7 593.3,273.8 604.7,278.1 616.1,274.2 627.5,274.4 638.9,277.3 650.3,276.4 661.7,278.9 673.1,281.3 684.5,279.3 695.9,277.9 707.2,280.3 718.6,278.9"/>
<polyline points="58.0,187.8 69.4,191.6 80.8,188.7 92.2,193.3 103.6,193.0 115.0,195.1 126.4,198.3 137.7,195.6 149.1,199.7 160.5,205.3 171.9,206.4 183.3,206.8 194.7,206.6 206.1,214.2 217.5,213.6 228.9,219.1 240.3,219.8 251.6,218.2 263.0,220.5 274.4,221.0 285.8,225.1 297.2,223.6 308.6,227.3 320.0,227.9 331.4,229.4 342.8,234.4 354.1,235.2 365.5,238.8 376.9,242.8 388.3,244.2 399.7,244.5 411.1,245.0 422.5,244.6 433.9,249.4 445.3,253.9 456.7,253.4 468.1,254.7 479.4,257.5 490.8,256.7 502.2,258.6 513.6,259.5 525.0,255.0 536.4,258.8 547.8,259.5 559.2,260.9 570.6,260.2 582.0,264.5 593.3,262.0 604.7,263.1 616.1,264.4 627.5,264.2 638.9,261.7 650.3,259.9 661.7,262.3 673.1,264.9 684.5,261.3 695.9,263.7 707.2,260.6 718.6,261.0"/>
<polyline points="58.0,217.1 69.4,213.5 80.8,218.3 92.2,216.6 103.6,219.2 115.0,216.2 126.4,215.6 137.7,217.0 149.1,221.2 160.5,219.6 171.9,218.1 183.3,217.7 194.7,220.4 206.1,221.9 217.5,220.5 228.9,221.7 240.3,224.9 251.6,227.5 263.0,229.8 274.4,230.5 285.8,229.0 297.2,225.8 308.6,229.7 320.0,229.1 331.4,231.4 342.8,228.3 354.1,227.2 365.5,231.4 376.9,230.1 388.3,231.3 399.7,234.0 411.1,234.2 422.5,238.1 433.9,235.7 445.3,238.6 456.7,236.8 468.1,240.1 479.4,239.7 490.8,243.3 502.2,240.6 513.6,238.2 525.0,240.2 536.4,239.1 547.8,243.4 559.2,240.3 570.6,242.9 582.0,245.7 593.3,244.0 604.7,242.4 616.1,244.6 627.5,245.1 638.9,243.1 650.3,245.8 661.7,243.0 673.1,240.5 684.5,238.0 695.9,239.5 707.2,237.1 718.6,236.0"/>
</g>
<clipPath id="s1"><rect x="351.0" y="221.0" width="379.0" height="79.0"/></clipPath>
<g clip-path="url(#s1)" fill="none" stroke="#484848" stroke-width="0.85" stroke-linejoin="round">
<polyline points="58.0,180.7 69.4,181.1 80.8,185.0 92.2,183.7 103.6,189.2 115.0,187.8 126.4,185.7 137.7,187.2 149.1,188.4 160.5,189.5 171.9,192.5 183.3,197.0 194.7,198.3 206.1,205.4 217.5,205.6 228.9,210.4 240.3,210.4 251.6,209.3 263.0,212.2 274.4,214.7 285.8,216.8 297.2,217.8 308.6,217.4 320.0,215.4 331.4,218.1 342.8,222.0 354.1,227.0 365.5,226.7 376.9,231.4 388.3,229.4 399.7,228.4 411.1,230.6 422.5,235.2 433.9,238.1 445.3,235.4 456.7,235.3 468.1,234.4 479.4,238.4 490.8,238.6 502.2,238.7 513.6,239.1 525.0,241.6 536.4,240.0 547.8,242.9 559.2,239.5 570.6,242.4 582.0,238.8 593.3,240.9 604.7,242.7 616.1,240.8 627.5,239.3 638.9,242.0 650.3,241.7 661.7,240.2 673.1,235.6 684.5,233.5 695.9,228.2 707.2,228.3 718.6,224.7"/>
<polyline points="58.0,188.5 69.4,189.3 80.8,187.4 92.2,189.0 103.6,194.1 115.0,195.8 126.4,195.2 137.7,196.3 149.1,196.9 160.5,201.3 171.9,202.1 183.3,200.8 194.7,203.7 206.1,206.1 217.5,208.1 228.9,208.4 240.3,211.8 251.6,210.4 263.0,211.3 274.4,210.3 285.8,212.1 297.2,210.9 308.6,217.0 320.0,217.1 331.4,216.3 342.8,219.6 354.1,217.9 365.5,221.2 376.9,222.8 388.3,224.8 399.7,227.5 411.1,229.0 422.5,232.3 433.9,232.1 445.3,231.5 456.7,233.5 468.1,236.0 479.4,241.0 490.8,243.1 502.2,239.1 513.6,238.8 525.0,242.1 536.4,242.9 547.8,247.5 559.2,243.6 570.6,245.2 582.0,249.7 593.3,252.9 604.7,251.4 616.1,249.0 627.5,251.1 638.9,250.9 650.3,252.5 661.7,250.7 673.1,248.2 684.5,249.4 695.9,251.2 707.2,249.9 718.6,248.9"/>
<polyline points="58.0,204.3 69.4,205.1 80.8,204.1 92.2,203.0 103.6,207.0 115.0,210.6 126.4,208.7 137.7,210.3 149.1,207.8 160.5,211.1 171.9,211.0 183.3,214.6 194.7,217.7 206.1,222.8 217.5,223.2 228.9,227.5 240.3,225.7 251.6,224.3 263.0,227.3 274.4,229.9 285.8,233.0 297.2,229.0 308.6,230.2 320.0,229.6 331.4,233.6 342.8,238.4 354.1,237.3 365.5,235.9 376.9,242.5 388.3,246.1 399.7,247.0 411.1,242.0 422.5,243.7 433.9,244.8 445.3,250.7 456.7,247.0 468.1,246.4 479.4,247.5 490.8,251.2 502.2,248.3 513.6,252.4 525.0,250.4 536.4,252.6 547.8,250.5 559.2,250.1 570.6,254.2 582.0,257.6 593.3,253.9 604.7,252.4 616.1,249.4 627.5,249.4 638.9,250.9 650.3,251.4 661.7,251.5 673.1,249.0 684.5,245.6 695.9,246.2 707.2,244.3 718.6,241.8"/>
<polyline points="58.0,208.4 69.4,212.8 80.8,213.6 92.2,212.3 103.6,216.8 115.0,217.2 126.4,218.9 137.7,217.9 149.1,220.5 160.5,223.2 171.9,222.0 183.3,221.2 194.7,226.7 206.1,225.8 217.5,228.5 228.9,234.4 240.3,232.7 251.6,232.2 263.0,234.2 274.4,233.5 285.8,238.4 297.2,237.2 308.6,236.1 320.0,238.4 331.4,239.6 342.8,239.6 354.1,239.2 365.5,245.5 376.9,246.7 388.3,249.2 399.7,250.1 411.1,253.3 422.5,252.1 433.9,256.6 445.3,260.7 456.7,258.2 468.1,259.3 479.4,260.1 490.8,259.7 502.2,263.5 513.6,261.0 525.0,264.1 536.4,261.6 547.8,265.8 559.2,263.1 570.6,267.0 582.0,264.5 593.3,264.5 604.7,265.0 616.1,265.4 627.5,269.5 638.9,270.0 650.3,266.4 661.7,265.4 673.1,266.1 684.5,268.3 695.9,268.7 707.2,267.6 718.6,268.6"/>
<polyline points="58.0,219.3 69.4,217.4 80.8,220.5 92.2,220.0 103.6,223.6 115.0,223.6 126.4,226.0 137.7,223.3 149.1,229.9 160.5,227.9 171.9,227.4 183.3,233.1 194.7,238.2 206.1,241.7 217.5,243.3 228.9,240.8 240.3,239.9 251.6,241.2 263.0,243.2 274.4,243.5 285.8,245.9 297.2,247.5 308.6,248.3 320.0,251.9 331.4,255.8 342.8,252.9 354.1,255.3 365.5,258.9 376.9,256.9 388.3,262.8 399.7,263.1 411.1,262.1 422.5,263.6 433.9,268.7 445.3,268.6 456.7,267.0 468.1,270.6 479.4,267.5 490.8,266.7 502.2,268.9 513.6,269.6 525.0,269.9 536.4,271.0 547.8,266.5 559.2,267.6 570.6,266.9 582.0,270.3 593.3,271.6 604.7,268.0 616.1,268.7 627.5,266.1 638.9,265.0 650.3,265.6 661.7,266.4 673.1,265.2 684.5,259.7 695.9,255.4 707.2,258.6 718.6,255.9"/>
<polyline points="58.0,226.1 69.4,228.5 80.8,229.0 92.2,230.2 103.6,234.6 115.0,231.7 126.4,235.3 137.7,233.8 149.1,232.4 160.5,237.0 171.9,236.3 183.3,242.9 194.7,244.1 206.1,243.1 217.5,248.0 228.9,247.3 240.3,251.3 251.6,247.9 263.0,250.2 274.4,253.5 285.8,253.8 297.2,254.4 308.6,253.1 320.0,256.1 331.4,260.9 342.8,259.6 354.1,262.6 365.5,264.3 376.9,267.3 388.3,271.3 399.7,270.8 411.1,269.5 422.5,272.1 433.9,276.3 445.3,280.6 456.7,282.2 468.1,279.2 479.4,277.0 490.8,280.7 502.2,277.0 513.6,279.4 525.0,277.3 536.4,279.2 547.8,282.0 559.2,284.7 570.6,282.0 582.0,281.7 593.3,284.3 604.7,283.8 616.1,280.9 627.5,281.0 638.9,280.4 650.3,283.3 661.7,283.9 673.1,279.9 684.5,280.6 695.9,282.7 707.2,284.0 718.6,283.4"/>
<polyline points="58.0,226.4 69.4,227.5 80.8,231.7 92.2,235.9 103.6,239.9 115.0,241.6 126.4,236.7 137.7,234.7 149.1,238.0 160.5,241.3 171.9,240.4 183.3,245.5 194.7,244.7 206.1,249.0 217.5,250.9 228.9,250.9 240.3,251.7 251.6,255.2 263.0,258.1 274.4,257.9 285.8,263.2 297.2,262.1 308.6,260.9 320.0,259.4 331.4,265.9 342.8,267.5 354.1,269.4 365.5,270.6 376.9,269.8 388.3,268.8 399.7,272.9 411.1,276.9 422.5,282.6 433.9,280.5 445.3,279.3 456.7,278.4 468.1,279.6 479.4,284.9 490.8,285.8 502.2,287.0 513.6,285.6 525.0,283.7 536.4,288.1 547.8,291.4 559.2,286.7 570.6,283.9 582.0,283.3 593.3,284.7 604.7,288.1 616.1,290.3 627.5,287.9 638.9,286.3 650.3,287.9 661.7,291.6 673.1,293.4 684.5,287.6 695.9,285.0 707.2,283.0 718.6,285.3"/>
<polyline points="58.0,200.4 69.4,202.6 80.8,205.6 92.2,203.7 103.6,203.7 115.0,207.2 126.4,206.9 137.7,209.1 149.1,213.9 160.5,212.1 171.9,214.1 183.3,215.7 194.7,218.2 206.1,225.6 217.5,224.7 228.9,227.4 240.3,227.5 251.6,228.4 263.0,230.3 274.4,230.6 285.8,237.8 297.2,240.4 308.6,240.7 320.0,243.3 331.4,248.3 342.8,246.5 354.1,249.5 365.5,248.4 376.9,250.5 388.3,252.8 399.7,255.0 411.1,257.5 422.5,259.6 433.9,262.0 445.3,266.4 456.7,265.3 468.1,268.3 479.4,271.1 490.8,272.7 502.2,268.6 513.6,267.5 525.0,271.2 536.4,270.5 547.8,272.1 559.2,271.6 570.6,275.8 582.0,275.7 593.3,273.8 604.7,278.1 616.1,274.2 627.5,274.4 638.9,277.3 650.3,276.4 661.7,278.9 673.1,281.3 684.5,279.3 695.9,277.9 707.2,280.3 718.6,278.9"/>
<polyline points="58.0,187.8 69.4,191.6 80.8,188.7 92.2,193.3 103.6,193.0 115.0,195.1 126.4,198.3 137.7,195.6 149.1,199.7 160.5,205.3 171.9,206.4 183.3,206.8 194.7,206.6 206.1,214.2 217.5,213.6 228.9,219.1 240.3,219.8 251.6,218.2 263.0,220.5 274.4,221.0 285.8,225.1 297.2,223.6 308.6,227.3 320.0,227.9 331.4,229.4 342.8,234.4 354.1,235.2 365.5,238.8 376.9,242.8 388.3,244.2 399.7,244.5 411.1,245.0 422.5,244.6 433.9,249.4 445.3,253.9 456.7,253.4 468.1,254.7 479.4,257.5 490.8,256.7 502.2,258.6 513.6,259.5 525.0,255.0 536.4,258.8 547.8,259.5 559.2,260.9 570.6,260.2 582.0,264.5 593.3,262.0 604.7,263.1 616.1,264.4 627.5,264.2 638.9,261.7 650.3,259.9 661.7,262.3 673.1,264.9 684.5,261.3 695.9,263.7 707.2,260.6 718.6,261.0"/>
<polyline points="58.0,217.1 69.4,213.5 80.8,218.3 92.2,216.6 103.6,219.2 115.0,216.2 126.4,215.6 137.7,217.0 149.1,221.2 160.5,219.6 171.9,218.1 183.3,217.7 194.7,220.4 206.1,221.9 217.5,220.5 228.9,221.7 240.3,224.9 251.6,227.5 263.0,229.8 274.4,230.5 285.8,229.0 297.2,225.8 308.6,229.7 320.0,229.1 331.4,231.4 342.8,228.3 354.1,227.2 365.5,231.4 376.9,230.1 388.3,231.3 399.7,234.0 411.1,234.2 422.5,238.1 433.9,235.7 445.3,238.6 456.7,236.8 468.1,240.1 479.4,239.7 490.8,243.3 502.2,240.6 513.6,238.2 525.0,240.2 536.4,239.1 547.8,243.4 559.2,240.3 570.6,242.9 582.0,245.7 593.3,244.0 604.7,242.4 616.1,244.6 627.5,245.1 638.9,243.1 650.3,245.8 661.7,243.0 673.1,240.5 684.5,238.0 695.9,239.5 707.2,237.1 718.6,236.0"/>
</g>
<polyline points="58.0,305.9 69.4,310.1 80.8,310.6 92.2,300.0 103.6,293.0 115.0,292.0 126.4,291.3 137.7,296.3 149.1,305.9 160.5,306.4 171.9,305.1 183.3,299.6 194.7,299.6 206.1,295.6 217.5,310.0 228.9,312.5 240.3,311.0 251.6,315.0 263.0,331.0 274.4,346.3 285.8,348.8 297.2,344.6 308.6,345.6 320.0,359.6 331.4,355.6 342.8,361.4 354.1,367.7 365.5,377.7 376.9,386.5 388.3,394.8 399.7,398.3 411.1,396.5 422.5,400.3 433.9,404.0 445.3,409.0 456.7,411.6 468.1,409.8 479.4,401.5 490.8,391.5 502.2,381.5 513.6,371.4 525.0,371.4 536.4,372.7 547.8,374.7 559.2,370.5 570.6,367.0 582.0,370.5 593.3,370.5 604.7,375.0 616.1,368.0 627.5,363.5 638.9,362.8 650.3,362.3 661.7,363.5 673.1,370.5 684.5,371.7 695.9,371.2 707.2,365.0 718.6,369.8" fill="none" stroke="#484848" stroke-width="0.85" stroke-linejoin="round"/>
<polyline points="217.5,263.6 228.9,267.0 240.3,279.0 251.6,275.0 263.0,285.0 274.4,301.0 285.8,315.0 297.2,315.0 308.6,319.0 320.0,321.6 331.4,323.6 342.8,321.6 354.1,330.3 365.5,332.8 376.9,334.0 388.3,336.0 399.7,344.0 411.1,343.6 422.5,341.0 433.9,333.6 445.3,333.0 456.7,325.0 468.1,317.0 479.4,315.6 490.8,313.6 502.2,316.4 513.6,317.0 525.0,311.6 536.4,312.4 547.8,305.6 559.2,308.0 570.6,301.0 582.0,297.6 593.3,316.5 604.7,325.8 616.1,327.5 627.5,321.9 638.9,317.1 650.3,311.7 661.7,305.4 673.1,311.7 684.5,317.6 695.9,325.1 707.2,322.8 718.6,324.2" fill="none" stroke="#484848" stroke-width="0.85" stroke-linejoin="round"/>
<polyline points="206.1,262.0 217.5,268.0 228.9,275.0 240.3,282.0 251.6,282.4 263.0,288.0 274.4,294.0 285.8,293.0 297.2,294.0 308.6,289.0 320.0,295.0 331.4,298.9 342.8,290.1 354.1,288.9 365.5,288.9 376.9,292.6 388.3,302.7 399.7,314.4 411.1,315.6 422.5,325.0 433.9,341.0 445.3,341.0 456.7,349.0 468.1,357.0 479.4,361.0 490.8,370.0 502.2,373.0 513.6,384.0 525.0,389.0 536.4,385.7 547.8,375.2 559.2,367.1 570.6,370.2 582.0,371.0 593.3,376.4 604.7,368.9 616.1,373.2 627.5,375.2 638.9,375.7 650.3,380.2 661.7,383.2 673.1,381.5 684.5,389.7 695.9,391.5 707.2,394.8 718.6,391.5" fill="none" stroke="#484848" stroke-width="0.85" stroke-linejoin="round"/>
<polyline points="58.0,244.6 69.4,243.5 80.8,236.3 92.2,232.0" fill="none" stroke="#484848" stroke-width="0.85" stroke-linejoin="round"/>
<polyline points="58.0,246.9 69.4,250.3 80.8,257.5 92.2,252.4 103.6,242.4" fill="none" stroke="#484848" stroke-width="0.85" stroke-linejoin="round"/>
<polyline points="103.6,242.4 115.0,246.4 126.4,252.0 137.7,257.0 149.1,274.0 160.5,275.0 171.9,278.0 183.3,276.0 194.7,269.0 206.1,267.0 217.5,263.6" fill="none" stroke="#484848" stroke-width="0.85" stroke-linejoin="round"/>
<polyline points="137.7,244.0 149.1,246.0 160.5,255.0 171.9,258.0 183.3,263.0 194.7,267.0 206.1,268.0 217.5,266.0" fill="none" stroke="#484848" stroke-width="0.85" stroke-linejoin="round"/>
<polyline points="513.6,296.0 525.0,300.0 536.4,301.0 547.8,303.5 559.2,306.3 570.6,300.0 582.0,296.5 593.3,295.3 604.7,290.6 616.1,282.4" fill="none" stroke="#484848" stroke-width="0.85" stroke-linejoin="round"/>
<line x1="502.3" y1="47" x2="502.3" y2="450" stroke="#555" stroke-width="1.1"/>
<polyline points="58.0,178.2 69.4,179.7 80.8,179.3 92.2,178.0 103.6,177.0 115.0,180.0 126.4,181.9 137.7,182.1 149.1,184.6 160.5,187.1 171.9,188.9 183.3,192.7 194.7,192.7 206.1,196.4 217.5,198.9 228.9,202.5 240.3,204.0 251.6,202.5 263.0,205.3 274.4,207.0 285.8,210.0 297.2,206.2 308.6,208.3 320.0,210.0 331.4,213.0 342.8,212.3 354.1,215.8 365.5,214.8 376.9,217.0 388.3,215.3 399.7,218.0 411.1,220.0 422.5,224.8 433.9,226.6 445.3,226.6 456.7,226.6 468.1,228.3 479.4,229.8 490.8,229.0 502.2,228.3 513.6,229.0 525.0,230.3 536.4,231.6 547.8,232.3 559.2,232.8 570.6,234.8 582.0,236.6 593.3,236.6 604.7,236.6 616.1,237.9 627.5,236.6 638.9,234.9 650.3,234.1 661.7,232.9 673.1,232.4 684.5,230.9 695.9,231.6 707.2,230.4 718.6,227.9" fill="none" stroke="#000" stroke-width="2.9" stroke-linejoin="round" stroke-linecap="round" stroke-dasharray="2.7,6" stroke-linecap="butt"/>
<polyline points="58.0,214.5 69.4,207.6 80.8,203.6 92.2,199.6 103.6,195.3 115.0,184.7 126.4,183.6 137.7,180.5 149.1,182.5 160.5,188.0 171.9,185.0 183.3,196.5 194.7,195.8 206.1,191.5 217.5,186.9 228.9,197.0 240.3,189.2 251.6,175.9 263.0,177.2 274.4,187.7 285.8,187.7 297.2,177.5 308.6,181.4 320.0,186.9 331.4,192.5 342.8,197.8 354.1,199.4 365.5,189.4 376.9,193.0 388.3,203.5 399.7,215.0 411.1,220.3 422.5,219.8 433.9,216.5 445.3,218.3 456.7,220.3 468.1,221.5 479.4,236.6 490.8,244.5 502.2,245.0 513.6,242.0 525.0,238.4 536.4,230.8 547.8,232.8 559.2,235.8 570.6,241.8 582.0,243.8 593.3,240.4 604.7,239.1 616.1,239.9 627.5,237.4 638.9,245.4 650.3,245.9 661.7,234.1 673.1,234.9 684.5,229.1 695.9,224.8 707.2,221.6 718.6,219.0" fill="none" stroke="#000" stroke-width="2.8" stroke-linejoin="round" stroke-linecap="round" />
<polyline points="58.0,229.7 69.4,228.9 80.8,221.4 92.2,225.1 103.6,228.9 115.0,240.2 126.4,235.2 137.7,232.2 149.1,230.2 160.5,218.9 171.9,226.4 183.3,220.1 194.7,204.6 206.1,200.5 217.5,205.1 228.9,213.0 240.3,221.5 251.6,224.0 263.0,225.3 274.4,235.3 285.8,241.6 297.2,242.9 308.6,234.1 320.0,227.8 331.4,225.3 342.8,226.6 354.1,221.5 365.5,222.8 376.9,223.3 388.3,232.8 399.7,232.8 411.1,238.5 422.5,234.1 433.9,230.8 445.3,234.1 456.7,239.1 468.1,232.3 479.4,235.8 490.8,234.8 502.2,239.9 513.6,244.1 525.0,249.9 536.4,256.7 547.8,252.9 559.2,260.0 570.6,256.0 582.0,248.6 593.3,248.0 604.7,256.2 616.1,260.3 627.5,270.1 638.9,268.9 650.3,272.1 661.7,266.0 673.1,256.5 684.5,251.5 695.9,253.2 707.2,245.2 718.6,238.7" fill="none" stroke="#FFA500" stroke-width="2.7" stroke-linejoin="round" stroke-linecap="round" />
<polyline points="58.0,291.8 69.4,290.0 80.8,297.6 92.2,298.3 103.6,299.6 115.0,304.6 126.4,297.6 137.7,297.1 149.1,294.3 160.5,295.6 171.9,311.3 183.3,312.5 194.7,321.4 206.1,322.7 217.5,317.1 228.9,313.9 240.3,311.8 251.6,324.0 263.0,311.5 274.4,326.5 285.8,335.3 297.2,344.4 308.6,361.5 320.0,370.5 331.4,365.9 342.8,368.3 354.1,373.1 365.5,375.3 376.9,387.0 388.3,389.7 399.7,394.0 411.1,400.3 422.5,402.8 433.9,409.8 445.3,412.3 456.7,415.8 468.1,412.8 479.4,419.9 490.8,424.1 502.2,430.9 513.6,425.4 525.0,428.4 536.4,428.4 547.8,425.9 559.2,420.9 570.6,430.4 582.0,435.4 593.3,426.6 604.7,425.9 616.1,420.0 627.5,426.2 638.9,426.2 650.3,417.9 661.7,410.8 673.1,403.3 684.5,395.8 695.9,394.0 707.2,390.7 718.6,388.2" fill="none" stroke="#0000FF" stroke-width="2.7" stroke-linejoin="round" stroke-linecap="round" />
<polyline points="58.0,347.3 69.4,340.7 80.8,333.2 92.2,330.7 103.6,329.0 115.0,331.5 126.4,334.0 137.7,323.9 149.1,315.1 160.5,311.4 171.9,312.1 183.3,310.1 194.7,313.1 206.1,305.6 217.5,310.1 228.9,298.8 240.3,299.6 251.6,294.6 263.0,305.2 274.4,316.5 285.8,320.2 297.2,331.5 308.6,337.3 320.0,335.3 331.4,336.0 342.8,335.3 354.1,339.8 365.5,345.3 376.9,347.9 388.3,340.8 399.7,339.8 411.1,343.5 422.5,347.6 433.9,353.1 445.3,350.6 456.7,357.1 468.1,363.9 479.4,377.7 490.8,391.5 502.2,384.7 513.6,380.2 525.0,377.7 536.4,380.7 547.8,382.2 559.2,378.2 570.6,368.3 582.0,356.4 593.3,358.5 604.7,365.3 616.1,372.7 627.5,376.4 638.9,377.7 650.3,381.5 661.7,377.2 673.1,378.9 684.5,375.2 695.9,366.0 707.2,356.9 718.6,349.0" fill="none" stroke="#00FF00" stroke-width="2.7" stroke-linejoin="round" stroke-linecap="round" />
<polyline points="58.0,207.3 69.4,208.8 80.8,203.8 92.2,206.3 103.6,215.1 115.0,230.2 126.4,231.4 137.7,232.2 149.1,230.2 160.5,235.7 171.9,233.2 183.3,237.7 194.7,240.2 206.1,244.0 217.5,251.5 228.9,251.6 240.3,247.0 251.6,243.2 263.0,240.8 274.4,239.3 285.8,240.8 297.2,238.0 308.6,234.5 320.0,231.5 331.4,230.7 342.8,228.0 354.1,224.0 365.5,225.7 376.9,216.4 388.3,226.8 399.7,234.0 411.1,239.3 422.5,248.5 433.9,258.2 445.3,258.0 456.7,259.8 468.1,259.4 479.4,257.5 490.8,264.4 502.2,270.5 513.6,277.5 525.0,280.2 536.4,281.4 547.8,285.2 559.2,290.7 570.6,292.2 582.0,296.1 593.3,295.7 604.7,300.2 616.1,302.2 627.5,296.5 638.9,309.0 650.3,312.8 661.7,315.8 673.1,314.8 684.5,312.8 695.9,314.0 707.2,313.3 718.6,314.8" fill="none" stroke="#A020F0" stroke-width="2.7" stroke-linejoin="round" stroke-linecap="round" />
<polyline points="58.0,211.3 69.4,232.5 80.8,243.7 92.2,253.4 103.6,263.3 115.0,263.6 126.4,269.1 137.7,275.3 149.1,275.0 160.5,276.6 171.9,282.6 183.3,278.1 194.7,281.2 206.1,276.6 217.5,269.0 228.9,262.5 240.3,263.4 251.6,262.5 263.0,259.2 274.4,256.7 285.8,255.4 297.2,250.4 308.6,249.6 320.0,251.7 331.4,246.6 342.8,241.6 354.1,247.9 365.5,251.7 376.9,252.4 388.3,256.7 399.7,260.4 411.1,263.1 422.5,276.0 433.9,279.7 445.3,275.3 456.7,283.9 468.1,290.2 479.4,297.2 490.8,291.5 502.2,292.2 513.6,290.2 525.0,291.5 536.4,297.7 547.8,301.5 559.2,299.7 570.6,294.0 582.0,294.6 593.3,290.2 604.7,291.5 616.1,280.7 627.5,289.7 638.9,285.7 650.3,294.0 661.7,289.0 673.1,283.2 684.5,288.2 695.9,292.7 707.2,287.2 718.6,283.9" fill="none" stroke="#FFFF00" stroke-width="2.7" stroke-linejoin="round" stroke-linecap="round" />
<polyline points="58.0,215.1 69.4,231.8 80.8,233.9 92.2,237.4 103.6,244.0 115.0,251.5 126.4,255.3 137.7,250.8 149.1,241.8 160.5,242.7 171.9,245.2 183.3,249.3 194.7,270.3 206.1,271.0 217.5,282.9 228.9,279.0 240.3,291.0 251.6,296.4 263.0,293.4 274.4,298.9 285.8,300.2 297.2,298.4 308.6,305.2 320.0,322.2 331.4,330.8 342.8,329.8 354.1,329.8 365.5,332.8 376.9,347.9 388.3,355.4 399.7,345.3 411.1,358.0 422.5,369.7 433.9,371.4 445.3,371.4 456.7,373.2 468.1,369.7 479.4,383.2 490.8,370.7 502.2,368.3" fill="none" stroke="#FF0000" stroke-width="5.3" stroke-linejoin="round" stroke-linecap="round" />
<text x="506.3" y="370.6" font-size="7" fill="#ff3b3b" textLength="21.6" lengthAdjust="spacingAndGlyphs">23.026</text>
<rect x="47" y="46.9" width="682.6" height="403.4" fill="none" stroke="#a0a0a0" stroke-width="1.4"/>
<line x1="69.4" y1="450.5" x2="69.4" y2="454.7" stroke="#555" stroke-width="1"/>
<text x="69.4" y="466.1" font-size="8.6" text-anchor="middle" fill="#000" stroke="#000" stroke-width="0.3" textLength="11.8" lengthAdjust="spacingAndGlyphs">200</text>
<line x1="183.3" y1="450.5" x2="183.3" y2="454.7" stroke="#555" stroke-width="1"/>
<text x="183.3" y="466.1" font-size="8.6" text-anchor="middle" fill="#000" stroke="#000" stroke-width="0.3" textLength="11.8" lengthAdjust="spacingAndGlyphs">210</text>
<line x1="297.2" y1="450.5" x2="297.2" y2="454.7" stroke="#555" stroke-width="1"/>
<text x="297.2" y="466.1" font-size="8.6" text-anchor="middle" fill="#000" stroke="#000" stroke-width="0.3" textLength="11.8" lengthAdjust="spacingAndGlyphs">220</text>
<line x1="411.1" y1="450.5" x2="411.1" y2="454.7" stroke="#555" stroke-width="1"/>
<text x="411.1" y="466.1" font-size="8.6" text-anchor="middle" fill="#000" stroke="#000" stroke-width="0.3" textLength="11.8" lengthAdjust="spacingAndGlyphs">230</text>
<line x1="525.0" y1="450.5" x2="525.0" y2="454.7" stroke="#555" stroke-width="1"/>
<text x="525.0" y="466.1" font-size="8.6" text-anchor="middle" fill="#000" stroke="#000" stroke-width="0.3" textLength="11.8" lengthAdjust="spacingAndGlyphs">240</text>
<line x1="638.9" y1="450.5" x2="638.9" y2="454.7" stroke="#555" stroke-width="1"/>
<text x="638.9" y="466.1" font-size="8.6" text-anchor="middle" fill="#000" stroke="#000" stroke-width="0.3" textLength="11.8" lengthAdjust="spacingAndGlyphs">250</text>
<line x1="42.2" y1="371.0" x2="46.5" y2="371.0" stroke="#555" stroke-width="1"/>
<text transform="translate(37.6,371.0) rotate(-90)" font-size="8.6" text-anchor="middle" fill="#000" stroke="#000" stroke-width="0.1" textLength="8" lengthAdjust="spacingAndGlyphs">23</text>
<line x1="42.2" y1="289.1" x2="46.5" y2="289.1" stroke="#555" stroke-width="1"/>
<text transform="translate(37.6,289.1) rotate(-90)" font-size="8.6" text-anchor="middle" fill="#000" stroke="#000" stroke-width="0.1" textLength="8" lengthAdjust="spacingAndGlyphs">24</text>
<line x1="42.2" y1="207.2" x2="46.5" y2="207.2" stroke="#555" stroke-width="1"/>
<text transform="translate(37.6,207.2) rotate(-90)" font-size="8.6" text-anchor="middle" fill="#000" stroke="#000" stroke-width="0.1" textLength="8" lengthAdjust="spacingAndGlyphs">25</text>
<line x1="42.2" y1="125.3" x2="46.5" y2="125.3" stroke="#555" stroke-width="1"/>
<text transform="translate(37.6,125.3) rotate(-90)" font-size="8.6" text-anchor="middle" fill="#000" stroke="#000" stroke-width="0.1" textLength="8" lengthAdjust="spacingAndGlyphs">26</text>
<text transform="translate(21.8,248.7) rotate(-90)" font-size="7.5" text-anchor="middle" fill="#222" textLength="96" lengthAdjust="spacingAndGlyphs">Ice Extent in millions of sq. km.</text>
<text x="388" y="482.7" font-size="7.5" text-anchor="middle" fill="#222" textLength="35.5" lengthAdjust="spacingAndGlyphs">Day of Year</text>
<text x="259.7" y="490.8" font-size="7.4" fill="#222" textLength="256.7" lengthAdjust="spacingAndGlyphs">Today's Ice Extent: 23.026&#160; - Record for the day: 25.873 which occurred on 1996 8 25</text>
<text x="302.2" y="33.2" font-size="9.3" font-weight="bold" fill="#111" textLength="172.8" lengthAdjust="spacingAndGlyphs">Global Sea Ice Extent Day 238 1978 to 2015</text>
<text x="12.5" y="483.7" font-size="13.9" fill="#111" textLength="222.7" lengthAdjust="spacingAndGlyphs">http://sunshinehours.wordpress.com</text>
<rect x="600.8" y="46.8" width="128.7" height="92.2" fill="none" stroke="#555" stroke-width="0.9"/>
<line x1="606.5" y1="55.3" x2="619.5" y2="55.3" stroke="#FF0000" stroke-width="3" stroke-linecap="round"/>
<text x="625.3" y="58.6" font-size="7.6" fill="#111" textLength="15.5" lengthAdjust="spacingAndGlyphs">2015</text>
<line x1="605.3" y1="63.7" x2="619.3" y2="63.7" stroke="#000" stroke-width="3" stroke-dasharray="4.7,4.7"/>
<text x="625.3" y="67.0" font-size="7.6" fill="#111" textLength="52.1" lengthAdjust="spacingAndGlyphs">Mean 1981-2010</text>
<line x1="606.7" y1="72.1" x2="619.1" y2="72.1" stroke="#d3d3d3" stroke-width="8.2" stroke-linecap="round"/>
<text x="625.3" y="75.4" font-size="7.6" fill="#111" textLength="100.7" lengthAdjust="spacingAndGlyphs">1 Standard Deviation From Mean</text>
<line x1="606.5" y1="80.5" x2="619.5" y2="80.5" stroke="#000" stroke-width="2.7" stroke-linecap="round"/>
<text x="625.3" y="83.8" font-size="7.6" fill="#111" textLength="15.5" lengthAdjust="spacingAndGlyphs">2014</text>
<line x1="606.5" y1="88.9" x2="619.5" y2="88.9" stroke="#FFA500" stroke-width="2.7" stroke-linecap="round"/>
<text x="625.3" y="92.2" font-size="7.6" fill="#111" textLength="15.5" lengthAdjust="spacingAndGlyphs">2013</text>
<line x1="606.5" y1="97.3" x2="619.5" y2="97.3" stroke="#0000FF" stroke-width="2.7" stroke-linecap="round"/>
<text x="625.3" y="100.6" font-size="7.6" fill="#111" textLength="15.5" lengthAdjust="spacingAndGlyphs">2012</text>
<line x1="606.5" y1="105.7" x2="619.5" y2="105.7" stroke="#00FF00" stroke-width="2.7" stroke-linecap="round"/>
<text x="625.3" y="109.0" font-size="7.6" fill="#111" textLength="15.5" lengthAdjust="spacingAndGlyphs">2011</text>
<line x1="606.5" y1="114.1" x2="619.5" y2="114.1" stroke="#A020F0" stroke-width="2.7" stroke-linecap="round"/>
<text x="625.3" y="117.4" font-size="7.6" fill="#111" textLength="15.5" lengthAdjust="spacingAndGlyphs">2010</text>
<line x1="606.5" y1="122.5" x2="619.5" y2="122.5" stroke="#FFFF00" stroke-width="2.7" stroke-linecap="round"/>
<text x="625.3" y="125.8" font-size="7.6" fill="#111" textLength="15.5" lengthAdjust="spacingAndGlyphs">2009</text>
<line x1="606.5" y1="130.9" x2="619.5" y2="130.9" stroke="#555" stroke-width="1" stroke-linecap="round"/>
<text x="625.3" y="134.2" font-size="7.6" fill="#111" textLength="54" lengthAdjust="spacingAndGlyphs">Every Other Year</text>
</svg></body></html>
